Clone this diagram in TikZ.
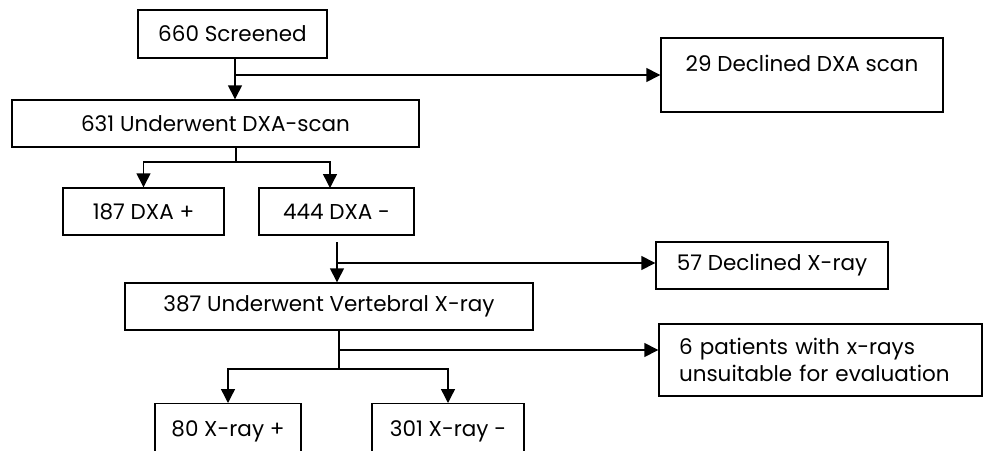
\documentclass[tikz,border=0pt]{standalone}
\usepackage{fontspec}
\setmainfont{Poppins}
\usetikzlibrary{arrows.meta}
\begin{document}
\begin{tikzpicture}[x=1pt,y=-1pt,
  box/.style={draw, line width=1.4pt, inner sep=0pt, font=\fontsize{21.5}{27}\selectfont},
  arr/.style={line width=1.4pt, -{Triangle[length=14pt,width=14pt]}},
  ln/.style={line width=1.4pt}]
\useasboundingbox (0,0) rectangle (983,450);
\clip (0,0) rectangle (983,450);
\node[box, minimum width=189pt, minimum height=48pt] (s660) at (232.5,34) {660 Screened};
\node[box, minimum width=282pt, text height=33pt, text depth=41pt] (d29) at (802,75) {29 Declined DXA scan};
\node[box, minimum width=407pt, minimum height=47pt] (u631) at (215.5,123.5) {631 Underwent DXA-scan};
\node[box, minimum width=161pt, minimum height=47pt] (p187) at (143.5,211.5) {187 DXA +};
\node[box, minimum width=155pt, minimum height=47pt] (n444) at (336.5,211.5) {444 DXA -};
\node[box, minimum width=232pt, minimum height=47pt] (d57) at (772,265.5) {57 Declined X-ray};
\node[box, minimum width=408pt, minimum height=47pt] (u387) at (329,306.5) {387 Underwent Vertebral X-ray};
\node[box, minimum width=323pt, minimum height=72pt, align=left, text width=283pt, inner xsep=20pt] (p6) at (820.5,360) {6 patients with x-rays\\unsuitable for evaluation};
\node[box, minimum width=146pt, minimum height=60pt, text height=33pt, text depth=27pt] (x80) at (228,403) [anchor=north] {80 X-ray +};
\node[box, minimum width=152pt, minimum height=60pt, text height=33pt, text depth=27pt] (x301) at (448,403) [anchor=north] {301 X-ray -};
% connectors
\coordinate (a1) at (235,75);
\draw[arr] (s660.south -| a1) -- (u631.north -| a1);
\draw[arr] (a1) -- (d29.west |- a1);
\coordinate (b1) at (236,162);
\draw[ln] (u631.south -| b1) -- (b1);
\draw[arr] (b1) -| (p187.north);
\draw[arr] (b1) -| (330,188);
\coordinate (c1) at (337,242);
\coordinate (c2) at (337,263);
\draw[arr] (c1) -- (c1 |- u387.north);
\draw[arr] (c2) -- (d57.west |- c2);
\coordinate (e1) at (339,350);
\coordinate (e2) at (339,369);
\draw[ln] (u387.south -| e1) -- (e2);
\draw[arr] (e1) -- (p6.west |- e1);
\draw[arr] (e2) -| (x80.north);
\draw[arr] (e2) -| (x301.north);
\end{tikzpicture}
\end{document}
